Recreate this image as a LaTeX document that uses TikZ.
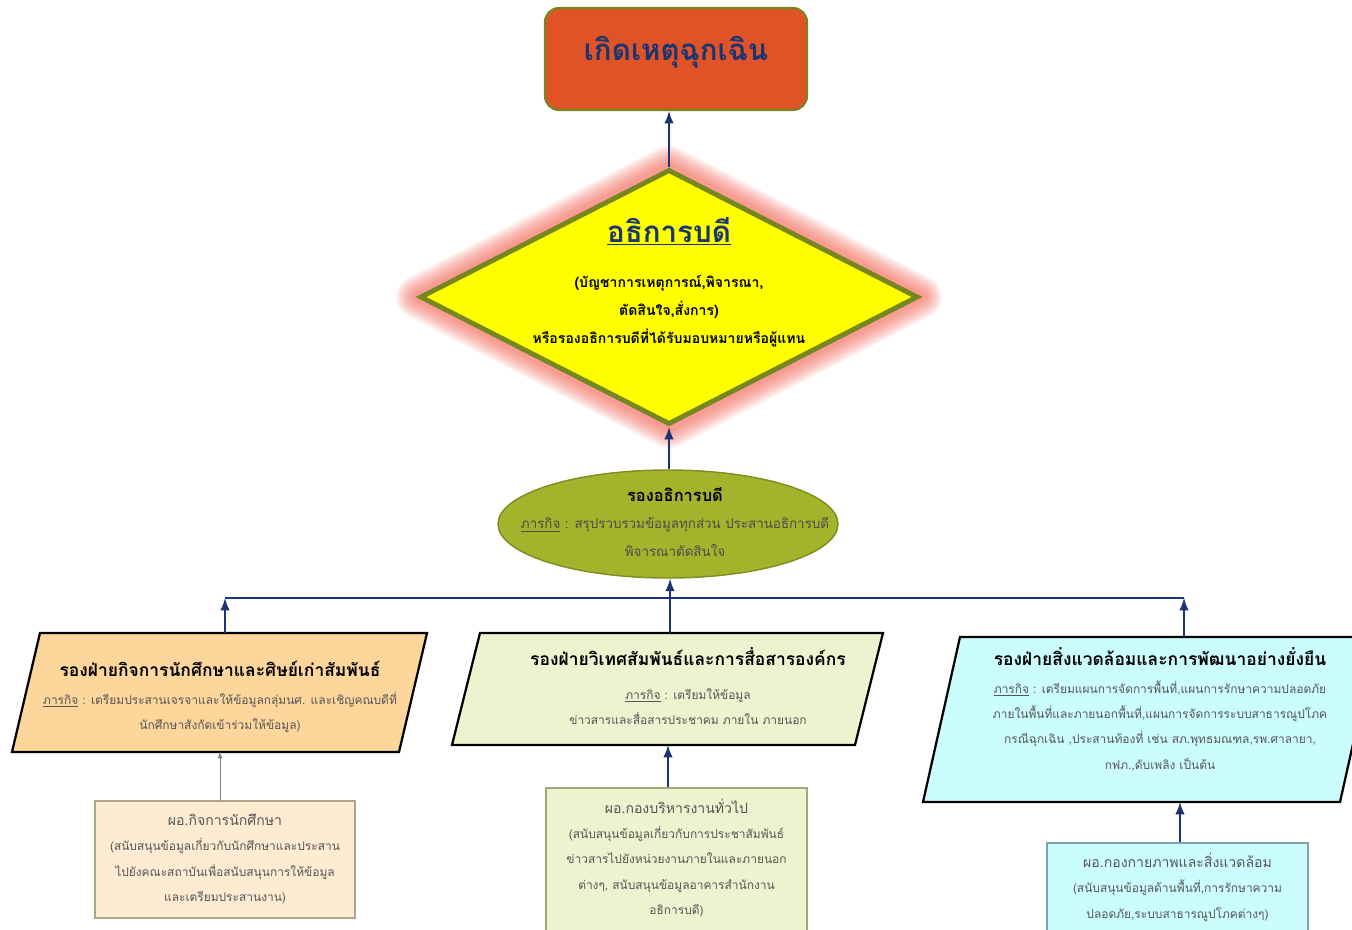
\documentclass[tikz,border=0pt]{standalone}
\usepackage{fontspec}
\setmainfont[Script=Thai]{Loma}
\usetikzlibrary{shapes.geometric,backgrounds}

\definecolor{navy}{HTML}{1A3572}
\definecolor{eventfill}{HTML}{E05327}
\definecolor{olivedge}{HTML}{77861F}
\definecolor{deanyellow}{HTML}{FFFF00}
\definecolor{glowred}{HTML}{F0604F}
\definecolor{vpfill}{HTML}{A2B32C}
\definecolor{vpedge}{HTML}{7E8E22}
\definecolor{stufill}{HTML}{FDD69C}
\definecolor{intfill}{HTML}{EFF2CF}
\definecolor{envfill}{HTML}{CCFDFE}
\definecolor{stubox}{HTML}{FDEBD2}
\definecolor{stuedge}{HTML}{AFA58F}
\definecolor{intedge}{HTML}{A3A878}
\definecolor{envedge}{HTML}{7FA3B0}
\definecolor{bodygray}{HTML}{555555}

\newcommand\unithead{\bfseries\fontsize{12.4}{18}\selectfont\color{black}}

\tikzset{
  navyarrow/.style={draw=navy, line width=2pt, -latex},
  navyline/.style={draw=navy, line width=1.8pt},
  thinarrow/.style={draw=gray, line width=0.6pt, -latex},
  unitpara/.style={draw=black, line width=1.6pt, line join=miter},
  staffbox/.style={rectangle, line width=1pt, inner sep=0pt},
  bodytext/.style={font=\fontsize{8.5}{18}\selectfont, text=bodygray, align=center}
}

\begin{document}
\begin{tikzpicture}[x=0.025cm, y=-0.025cm]
\useasboundingbox (0,0) rectangle (1352,929);

\node[rectangle, rounded corners=10pt, fill=eventfill, draw=olivedge, line width=1.5pt,
      minimum width=6.55cm, minimum height=2.55cm, text=navy, text depth=15pt,
      font=\bfseries\fontsize{21}{26}\selectfont] (event) at (676,59) {เกิดเหตุฉุกเฉิน};

\node[diamond, fill=deanyellow, draw=olivedge, line width=3.5pt, inner sep=0pt,
      minimum width=12.45cm, minimum height=6.375cm] (dean) at (669,297) {};
\begin{scope}[on background layer]
  \foreach \w in {30,27,24,21,18,15,12,9,6}
    \draw[glowred, line width=\w pt, opacity=0.1, line join=round]
      (dean.north) -- (dean.east) -- (dean.south) -- (dean.west) -- cycle;
\end{scope}
\node[align=center, font=\bfseries\fontsize{10}{20}\selectfont] (deantext) at (669,282)
  {{\fontsize{21}{28}\selectfont\color{navy}\underline{อธิการบดี}}\\[12pt]
   (บัญชาการเหตุการณ์,พิจารณา,\\
   ตัดสินใจ,สั่งการ)\\
   หรือรองอธิการบดีที่ได้รับมอบหมายหรือผู้แทน};

\node[ellipse, fill=vpfill, draw=vpedge, line width=1pt,
      minimum width=8.5cm, minimum height=2.7cm] (vp) at (668,524) {};
\node[bodytext, font=\fontsize{9.5}{19.5}\selectfont, text=black!70] (vptext) at (675,522)
  {{\bfseries\fontsize{11.7}{18}\selectfont\color{black}รองอธิการบดี}\\
   \underline{ภารกิจ} : สรุปรวบรวมข้อมูลทุกส่วน ประสานอธิการบดี\\
   พิจารณาตัดสินใจ};

% parallelograms of the three vice-president units
\draw[unitpara, fill=stufill] (12,752) -- (40,633) -- (427,633) -- (399,752) -- cycle;
\coordinate (stutop) at (225,633);
\coordinate (stubot) at (220,752);
\node[bodytext] (stutext) at (220,697)
  {{\unithead รองฝ่ายกิจการนักศึกษาและศิษย์เก่าสัมพันธ์}\\[2pt]
   \underline{ภารกิจ} : เตรียมประสานเจรจาและให้ข้อมูลกลุ่มนศ. และเชิญคณบดีที่\\
   นักศึกษาสังกัดเข้าร่วมให้ข้อมูล)};

\draw[unitpara, fill=intfill] (452,745) -- (480,633) -- (883,633) -- (855,745) -- cycle;
\coordinate (inttop) at (670,633);
\coordinate (intbot) at (668,745);
\node[bodytext] (inttext) at (688,686)
  {{\unithead รองฝ่ายวิเทศสัมพันธ์และการสื่อสารองค์กร}\\[6pt]
   \underline{ภารกิจ} : เตรียมให้ข้อมูล\\
   ข่าวสารและสื่อสารประชาคม ภายใน ภายนอก};

\draw[unitpara, fill=envfill] (923,802) -- (960,637) -- (1377,637) -- (1340,802) -- cycle;
\coordinate (envtop) at (1184,637);
\coordinate (envbot) at (1180,802);
\node[bodytext] (envtext) at (1160,709)
  {{\unithead รองฝ่ายสิ่งแวดล้อมและการพัฒนาอย่างยั่งยืน}\\[2pt]
   \underline{ภารกิจ} : เตรียมแผนการจัดการพื้นที่,แผนการรักษาความปลอดภัย\\
   ภายในพื้นที่และภายนอกพื้นที่,แผนการจัดการระบบสาธารณูปโภค\\
   กรณีฉุกเฉิน ,ประสานท้องที่ เช่น สภ.พุทธมณฑล,รพ.ศาลายา,\\
   กฟภ.,ดับเพลิง เป็นต้น};

\node[staffbox, fill=stubox, draw=stuedge, minimum width=6.5cm, minimum height=2.925cm] (stustaff) at (225,859.5) {};
\node[bodytext] (stustafftext) at (225,859)
  {{\fontsize{10}{18}\selectfont ผอ.กิจการนักศึกษา}\\
   (สนับสนุนข้อมูลเกี่ยวกับนักศึกษาและประสาน\\
   ไปยังคณะสถาบันเพื่อสนับสนุนการให้ข้อมูล\\
   และเตรียมประสานงาน)};

\node[staffbox, fill=intfill, draw=intedge, minimum width=6.525cm, minimum height=3.8cm] (genstaff) at (676.5,864) {};
\node[bodytext] (genstafftext) at (676.5,858)
  {{\fontsize{10}{18}\selectfont ผอ.กองบริหารงานทั่วไป}\\
   (สนับสนุนข้อมูลเกี่ยวกับการประชาสัมพันธ์\\
   ข่าวสารไปยังหน่วยงานภายในและภายนอก\\
   ต่างๆ, สนับสนุนข้อมูลอาคารสำนักงาน\\
   อธิการบดี)};

\node[staffbox, fill=envfill, draw=envedge, minimum width=6.525cm, minimum height=2.425cm] (envstaff) at (1177.5,891.5) {};
\node[bodytext] (envstafftext) at (1177.5,887)
  {{\fontsize{10}{18}\selectfont ผอ.กองกายภาพและสิ่งแวดล้อม}\\
   (สนับสนุนข้อมูลด้านพื้นที่,การรักษาความ\\
   ปลอดภัย,ระบบสาธารณูปโภคต่างๆ)};

\coordinate (busL) at (225,598);
\coordinate (busR) at (1184,598);

\draw[navyarrow] (dean.north) -- (dean.north |- event.south);
\draw[navyarrow] (dean.south |- vp.north) -- (dean.south);
\draw[navyarrow] (inttop) -- (inttop |- vp.south);
\draw[navyline] (busL) -- (busR);
\draw[navyarrow] (stutop) -- (busL);
\draw[navyarrow] (envtop) -- (busR);
\draw[thinarrow] (stubot |- stustaff.north) -- (stubot);
\draw[navyarrow] (intbot |- genstaff.north) -- (intbot);
\draw[navyarrow] (envbot |- envstaff.north) -- (envbot);
\end{tikzpicture}
\end{document}
